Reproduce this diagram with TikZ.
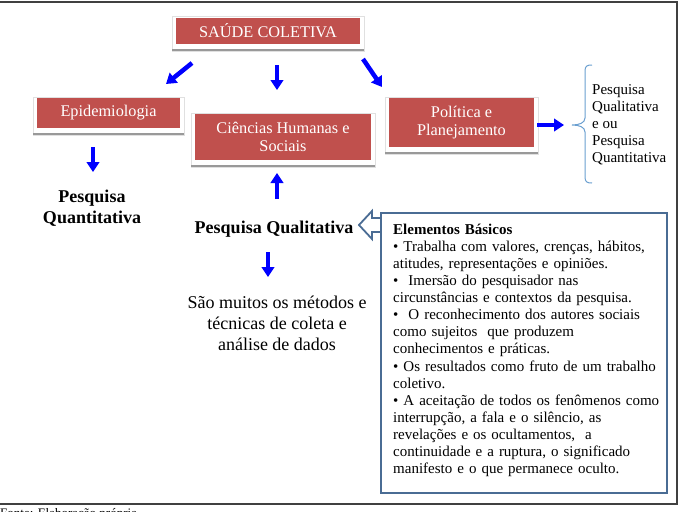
\documentclass[tikz,border=0pt]{standalone}
\usepackage{fontspec}
\setmainfont{Liberation Serif}
\usetikzlibrary{arrows.meta,backgrounds,calc}
\definecolor{boxred}{HTML}{C0504D}
\definecolor{steel}{HTML}{4A6C94}
\definecolor{bracecol}{HTML}{6A9FD0}
\newcommand{\redframe}[1]{%
  \filldraw[fill=white, draw=black!12, line width=0.6pt]
    ([xshift=-4pt,yshift=1pt]#1.north west) rectangle ([xshift=4pt,yshift=-7pt]#1.south east);
  \fill[black!40]
    ([xshift=-4pt,yshift=-5pt]#1.south west) rectangle ([xshift=4pt,yshift=-7pt]#1.south east);}
\begin{document}
\begin{tikzpicture}[x=1pt,y=-1pt,
  redbox/.style={fill=boxred, text=white, font=\fontsize{16.3}{18.7}\selectfont,
    align=center, inner sep=0pt},
  bluearr/.style={blue, line width=4.5pt, -{Triangle[length=10pt,width=12.5pt]}},
  boldtxt/.style={font=\bfseries\fontsize{18}{21}\selectfont, align=center, inner sep=0pt},
  plaintxt/.style={font=\fontsize{18}{21}\selectfont, align=center, inner sep=0pt},
  smalltxt/.style={font=\fontsize{15}{17.1}\selectfont, align=left, inner sep=0pt}]
\useasboundingbox (0,0) rectangle (682,511);
% outer frame
\draw[black!75, line width=1.2pt] (-3,2) -- (677,2) -- (677,504) -- (-3,504);
% footer (cut by the page edge)
\node[anchor=base west, inner sep=0pt, font=\fontsize{13}{15}\selectfont] (fonte) at (0,517) {Fonte: Elaboração própria};

% red boxes
\node[redbox, minimum width=184pt, minimum height=26pt] (saude) at (268,31) {SAÚDE COLETIVA};
\node[redbox, minimum width=143pt, minimum height=30pt] (epi) at (108.5,113) {Epidemiologia};
\node[redbox, minimum width=176pt, minimum height=46pt] (cien) at (283,137) {Ciências Humanas e\\Sociais};
\node[redbox, minimum width=145pt, minimum height=49pt] (pol) at (461.5,122.5) {Política e\\Planejamento};
\begin{scope}[on background layer]
  \redframe{saude}
  \redframe{epi}
  \redframe{cien}
  \redframe{pol}
\end{scope}

% texts
\node[boldtxt] (quant) at (92,208) {Pesquisa\\Quantitativa};
\node[boldtxt] (qual) at (274,229) {Pesquisa Qualitativa};
\node[plaintxt] (metodos) at (277,323) {São muitos os métodos e\\técnicas de coleta e\\análise de dados};
\node[smalltxt, anchor=west] (brtext) at (592,125) {Pesquisa\\Qualitativa\\e ou\\Pesquisa\\Quantitativa};

% arrow end points
\coordinate (a1s) at (192,63);  \coordinate (a1e) at (166,84);
\coordinate (a2s) at (277,65);  \coordinate (a2e) at (277,90);
\coordinate (a3s) at (363,59);  \coordinate (a3e) at (382,87);
\coordinate (a4s) at (93,147);  \coordinate (a4e) at (93,172);
\coordinate (a5s) at (277,199); \coordinate (a5e) at (277,173);
\coordinate (a6s) at (268,252); \coordinate (a6e) at (268,277);
\coordinate (a7s) at (537,125); \coordinate (a7e) at (564,125);
\draw[bluearr] (a1s) -- (a1e);
\draw[bluearr] (a2s) -- (a2e);
\draw[bluearr] (a3s) -- (a3e);
\draw[bluearr] (a4s) -- (a4e);
\draw[bluearr] (a5s) -- (a5e);
\draw[bluearr] (a6s) -- (a6e);
\draw[bluearr] (a7s) -- (a7e);

% brace
\draw[bracecol, line width=1pt]
  (592,65) .. controls (587,65) and (585,66) .. (585,71) -- (585,118)
  .. controls (585,123) and (579,125) .. (572,125)
  .. controls (579,125) and (585,127) .. (585,132) -- (585,177)
  .. controls (585,182) and (587,183) .. (592,183);

% hollow arrow towards Pesquisa Qualitativa
\draw[steel, line width=1.8pt, fill=white, line join=miter]
  (359,225) -- (372,211) -- (372,218) -- (383,218) -- (383,232) -- (372,232) -- (372,239) -- cycle;

% Elementos Basicos box
\node[draw=steel, line width=2.6pt, fill=white, minimum width=286pt, minimum height=280pt,
  inner sep=0pt] (elem) at (524,353) {};
\node[smalltxt, anchor=north west, text width=272pt] (elemtext) at (393,223.6) {%
\textbf{Elementos Básicos}\\
• Trabalha com valores, crenças, hábitos,\\
atitudes, representações e opiniões.\\
•~ Imersão do pesquisador nas\\
circunstâncias e contextos da pesquisa.\\
•~ O reconhecimento dos autores sociais\\
como sujeitos~ que produzem\\
conhecimentos e práticas.\\
• Os resultados como fruto de um trabalho\\
coletivo.\\
• A aceitação de todos os fenômenos como\\
interrupção, a fala e o silêncio, as\\
revelações e os ocultamentos,~ a\\
continuidade e a ruptura, o significado\\
manifesto e o que permanece oculto.};
\end{tikzpicture}
\end{document}
